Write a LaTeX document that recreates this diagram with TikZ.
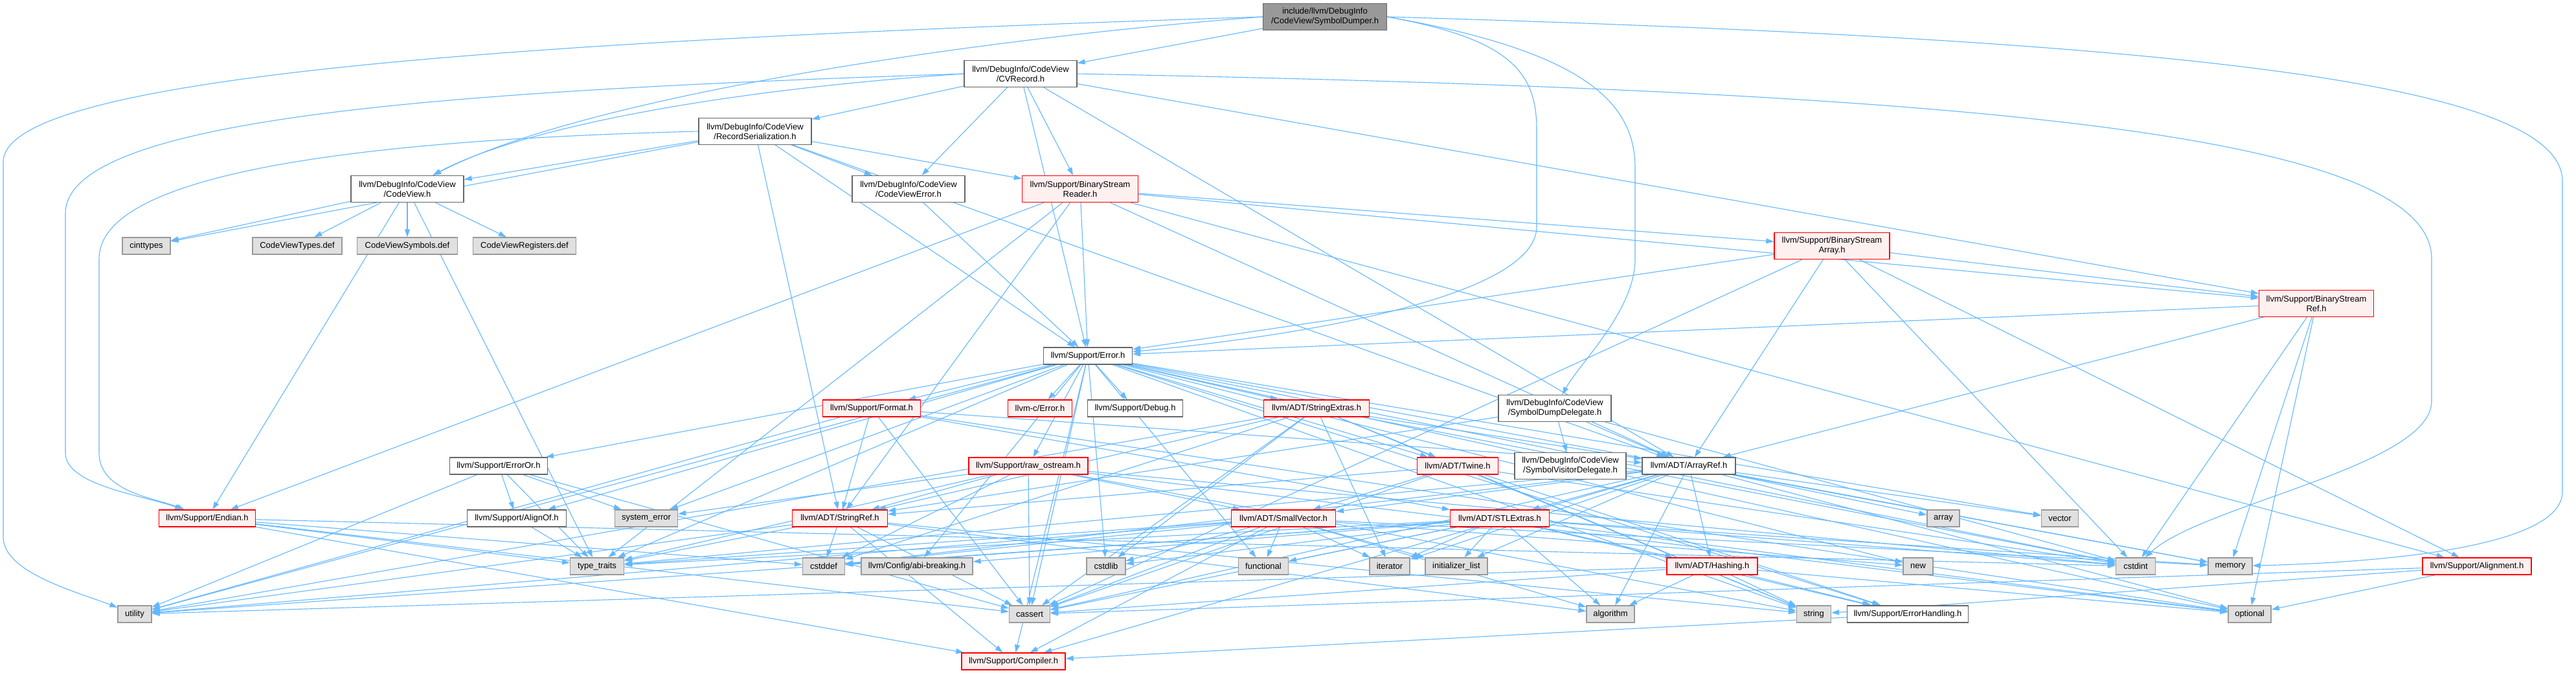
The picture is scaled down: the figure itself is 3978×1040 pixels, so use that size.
\documentclass[tikz,border=0pt]{standalone}
\usepackage{fontspec}
\setmainfont{Liberation Sans}
\usetikzlibrary{arrows.meta}
\definecolor{edgec}{HTML}{63B8FF}
\definecolor{extfill}{HTML}{E0E0E0}
\definecolor{extdraw}{HTML}{999999}
\definecolor{plaindraw}{HTML}{666666}
\definecolor{rootfill}{HTML}{999999}
\definecolor{redfill}{HTML}{FFF0F0}
\definecolor{reddraw}{HTML}{FF0000}
\pgfdeclarelayer{bg}
\pgfsetlayers{bg,main}
\begin{document}
\begin{tikzpicture}[x=1pt,y=-1pt,
  basebox/.style={draw, line width=1.3pt, font=\fontsize{13pt}{15pt}\selectfont, inner sep=0pt, align=center, minimum height=26pt},
  twol/.style={minimum height=41pt},
  wbox/.style={basebox, draw=plaindraw, fill=white},
  gbox/.style={basebox, draw=extdraw, fill=extfill},
  rbox/.style={basebox, draw=reddraw, fill=redfill},
  rootbox/.style={basebox, draw=plaindraw, fill=rootfill},
  conn/.style={draw=edgec, line width=1.1pt, -{Triangle[length=12pt,width=8pt]}}]
\useasboundingbox (0,0) rectangle (3978,1040);
% row 0-5
\node[rootbox,twol,minimum width=191pt] (root) at (2046,26) {include/llvm/DebugInfo\\/CodeView/SymbolDumper.h};
\node[wbox,twol,minimum width=174pt] (cvrec) at (1576,114) {llvm/DebugInfo/CodeView\\/CVRecord.h};
\node[wbox,twol,minimum width=174pt] (recser) at (1166,203) {llvm/DebugInfo/CodeView\\/RecordSerialization.h};
\node[wbox,twol,minimum width=174pt] (cv) at (629,292) {llvm/DebugInfo/CodeView\\/CodeView.h};
\node[wbox,twol,minimum width=174pt] (cverr) at (1403,292) {llvm/DebugInfo/CodeView\\/CodeViewError.h};
\node[rbox,twol,minimum width=179pt] (bsreader) at (1668,292) {llvm/Support/BinaryStream\\Reader.h};
\node[gbox,minimum width=74pt] (cinttypes) at (226,380) {cinttypes};
\node[gbox,minimum width=138pt] (cvtypes) at (459,380) {CodeViewTypes.def};
\node[gbox,minimum width=155pt] (cvsyms) at (629,380) {CodeViewSymbols.def};
\node[gbox,minimum width=159pt] (cvregs) at (810,380) {CodeViewRegisters.def};
\node[rbox,twol,minimum width=178pt] (bsarray) at (2829,380) {llvm/Support/BinaryStream\\Array.h};
\node[rbox,twol,minimum width=177pt] (bsref) at (3577,469) {llvm/Support/BinaryStream\\Ref.h};
% row 6-7
\node[wbox,minimum width=137pt] (err) at (1680,550) {llvm/Support/Error.h};
\node[rbox,minimum width=151pt] (format) at (1346,631) {llvm/Support/Format.h};
\node[rbox,minimum width=99pt] (cerr) at (1606,631) {llvm-c/Error.h};
\node[wbox,minimum width=147pt] (debug) at (1753,631) {llvm/Support/Debug.h};
\node[rbox,minimum width=163pt] (strext) at (2033,631) {llvm/ADT/StringExtras.h};
\node[wbox,twol,minimum width=174pt] (sdd) at (2401,631) {llvm/DebugInfo/CodeView\\/SymbolDumpDelegate.h};
% row 8
\node[wbox,minimum width=151pt] (erroror) at (770,720) {llvm/Support/ErrorOr.h};
\node[rbox,minimum width=184pt] (rawos) at (1588,720) {llvm/Support/raw\_ostream.h};
\node[rbox,minimum width=125pt] (twine) at (2251,720) {llvm/ADT/Twine.h};
\node[wbox,twol,minimum width=172pt] (svd) at (2425,720) {llvm/DebugInfo/CodeView\\/SymbolVisitorDelegate.h};
\node[wbox,minimum width=144pt] (arrayref) at (2608,720) {llvm/ADT/ArrayRef.h};
% row 9
\node[rbox,minimum width=149pt] (endian) at (320,801) {llvm/Support/Endian.h};
\node[wbox,minimum width=153pt] (alignof) at (798,801) {llvm/Support/AlignOf.h};
\node[gbox,minimum width=97pt] (syserr) at (998,801) {system\_error};
\node[rbox,minimum width=147pt] (strref) at (1297,801) {llvm/ADT/StringRef.h};
\node[rbox,minimum width=161pt] (smallvec) at (1982,801) {llvm/ADT/SmallVector.h};
\node[rbox,minimum width=153pt] (stlext) at (2316,801) {llvm/ADT/STLExtras.h};
\node[gbox,minimum width=50pt] (array) at (3001,801) {array};
\node[gbox,minimum width=57pt] (vector) at (3181,801) {vector};
% row 10
\node[gbox,minimum width=83pt] (typetraits) at (922,875) {type\_traits};
\node[gbox,minimum width=65pt] (cstddef) at (1272,875) {cstddef};
\node[gbox,minimum width=172pt] (abi) at (1416,875) {llvm/Config/abi-breaking.h};
\node[gbox,minimum width=60pt] (cstdlib) at (1708,875) {cstdlib};
\node[gbox,minimum width=77pt] (functional) at (1951,875) {functional};
\node[gbox,minimum width=62pt] (iterator) at (2146,875) {iterator};
\node[gbox,minimum width=96pt] (initlist) at (2249,875) {initializer\_list};
\node[rbox,minimum width=140pt] (hashing) at (2644,875) {llvm/ADT/Hashing.h};
\node[gbox,minimum width=46pt] (new) at (2962,875) {new};
\node[gbox,minimum width=61pt] (cstdint) at (3298,875) {cstdint};
\node[gbox,minimum width=68pt] (memory) at (3444,875) {memory};
\node[rbox,minimum width=168pt] (alignment) at (3825,875) {llvm/Support/Alignment.h};
% row 11-12
\node[gbox,minimum width=52pt] (utility) at (208,949) {utility};
\node[gbox,minimum width=63pt] (cassert) at (1590,949) {cassert};
\node[gbox,minimum width=74pt] (algorithm) at (2487,949) {algorithm};
\node[gbox,minimum width=53pt] (string) at (2801,949) {string};
\node[wbox,minimum width=187pt] (errhand) at (2946,949) {llvm/Support/ErrorHandling.h};
\node[gbox,minimum width=66pt] (optional) at (3474,949) {optional};
\node[rbox,minimum width=160pt] (compiler) at (1565,1022) {llvm/Support/Compiler.h};

\begin{pgfonlayer}{bg}
\fill[white] (0,0) rectangle (3978,1040);
% routed connectors
\draw[conn] (root.west) .. controls (900,60) and (5,110) .. (5,250) -- (5,830) .. controls (5,885) and (120,915) .. (utility);
\draw[conn] (root.west) .. controls (1500,60) and (900,150) .. (cv);
\draw[conn] (root.east) .. controls (2330,60) and (2373,110) .. (2373,200) -- (2373,350) .. controls (2373,460) and (2000,520) .. (err);
\draw[conn] (root.east) .. controls (2450,80) and (2525,160) .. (2525,260) -- (2525,400) .. controls (2525,480) and (2440,560) .. (sdd);
\draw[conn] (root.east) .. controls (3300,60) and (3957,120) .. (3957,280) -- (3957,760) .. controls (3957,850) and (3650,870) .. (memory);
\draw[conn] (cvrec.west) .. controls (1100,140) and (800,200) .. (cv);
\draw[conn] (cvrec.west) .. controls (700,140) and (101,180) .. (101,330) -- (101,700) .. controls (101,750) and (220,765) .. (endian);
\draw[conn] (cvrec.east) .. controls (3000,140) and (3755,200) .. (3755,400) -- (3755,620) .. controls (3755,720) and (3400,780) .. (cstdint);
\draw[conn] (recser.west) .. controls (600,215) and (153,260) .. (153,400) -- (153,700) .. controls (153,760) and (240,770) .. (endian);
% straight connectors
\foreach \s/\t in {root/cvrec,
  cvrec/recser, cvrec/cverr, cvrec/bsreader, cvrec/err, cvrec/bsref, cvrec/arrayref,
  recser/cverr, recser/bsreader, recser/cv, recser/cinttypes, recser/strref, recser/err, recser/arrayref,
  cv/cinttypes, cv/cvtypes, cv/cvsyms, cv/cvregs, cv/endian, cv/typetraits,
  cverr/err,
  bsreader/bsarray, bsreader/bsref, bsreader/alignment, bsreader/err, bsreader/endian, bsreader/strref, bsreader/arrayref, bsreader/typetraits,
  bsarray/arrayref, bsarray/alignment, bsarray/bsref, bsarray/err, bsarray/cassert, bsarray/cstdint,
  bsref/err, bsref/arrayref, bsref/cstdint, bsref/memory, bsref/optional,
  err/format, err/cerr, err/debug, err/strext, err/erroror, err/rawos, err/twine, err/alignof, err/syserr, err/typetraits, err/utility, err/cassert, err/cstdint, err/cstdlib, err/functional, err/memory, err/new, err/optional, err/string, err/vector, err/compiler, err/errhand, err/abi,
  format/strref, format/arrayref, format/stlext, format/utility, format/cassert, format/optional,
  strext/arrayref, strext/strref, strext/twine, strext/cassert, strext/cstddef, strext/cstdint, strext/cstdlib, strext/iterator, strext/string, strext/utility,
  sdd/svd, sdd/arrayref, sdd/strref, sdd/cstdint,
  erroror/alignof, erroror/syserr, erroror/typetraits, erroror/utility, erroror/cassert,
  rawos/syserr, rawos/strref, rawos/smallvec, rawos/cassert, rawos/cstddef, rawos/cstdint, rawos/optional, rawos/string, rawos/typetraits,
  twine/smallvec, twine/strref, twine/errhand, twine/cassert, twine/cstdint, twine/string,
  arrayref/hashing, arrayref/smallvec, arrayref/stlext, arrayref/compiler, arrayref/algorithm, arrayref/array, arrayref/cassert, arrayref/cstddef, arrayref/initlist, arrayref/iterator, arrayref/memory, arrayref/optional, arrayref/typetraits, arrayref/vector,
  endian/compiler, endian/cassert, endian/cstddef, endian/cstdint, endian/typetraits,
  alignof/typetraits,
  strref/compiler, strref/algorithm, strref/cassert, strref/cstddef, strref/string, strref/typetraits, strref/utility,
  smallvec/compiler, smallvec/algorithm, smallvec/cassert, smallvec/cstddef, smallvec/cstdlib, smallvec/functional, smallvec/initlist, smallvec/iterator, smallvec/memory, smallvec/new, smallvec/typetraits, smallvec/utility,
  stlext/hashing, stlext/abi, stlext/errhand, stlext/algorithm, stlext/cassert, stlext/cstddef, stlext/cstdint, stlext/cstdlib, stlext/functional, stlext/initlist, stlext/iterator, stlext/memory, stlext/optional, stlext/typetraits, stlext/utility,
  hashing/errhand, hashing/algorithm, hashing/cassert, hashing/optional, hashing/string, hashing/utility,
  alignment/cassert, alignment/optional, alignment/string,
  errhand/compiler}
  \draw[conn] (\s) -- (\t);
\end{pgfonlayer}
\end{tikzpicture}
\end{document}
